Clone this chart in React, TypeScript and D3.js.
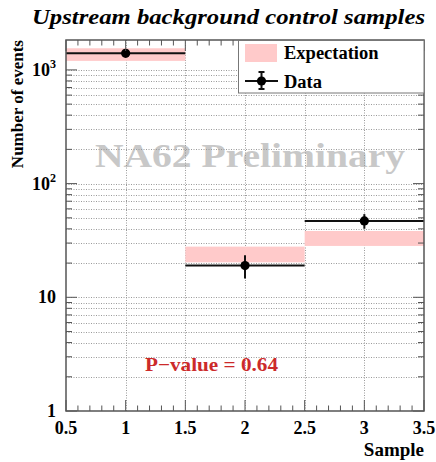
import React from "react";
import * as d3 from "d3";

const samples = [1, 2, 3];
const binWidth = 1;
const dataValues = [1400, 19, 47];
const dataErrors = [37, 4.4, 6.9];
const expLow = [1200, 20.3, 28.3];
const expHigh = [1550, 27.9, 38.3];
const xMajorTicks = [0.5, 1, 1.5, 2, 2.5, 3, 3.5];
const xTickLabels = ["0.5", "1", "1.5", "2", "2.5", "3", "3.5"];
const yMajorTicks = [1, 10, 100, 1000];
const yTickLabels: [string, string][] = [["1", ""], ["10", ""], ["10", "2"], ["10", "3"]];
const title = "Upstream background control samples";
const pValueText = "P\u2212value = 0.64";

const W = 436, H = 462;
const L = 66, R = 424, T = 40, B = 411;
const FONT = "'Liberation Serif', 'Times New Roman', serif";

export default function App() {
  const x = d3.scaleLinear().domain([0.5, 3.5]).range([L, R]);
  const y = d3.scaleLog().domain([1, 1832]).range([B, T]);

  const yMinor: number[] = [];
  for (const dec of [1, 10, 100, 1000]) {
    for (let k = 2; k <= 9; k++) {
      const v = k * dec;
      if (v < 1832) yMinor.push(v);
    }
  }
  const xMinor: number[] = [];
  for (let i = 0; i <= 30; i++) {
    const v = +(0.5 + i * 0.1).toFixed(2);
    if (Math.abs(v * 2 - Math.round(v * 2)) > 1e-6) xMinor.push(v);
  }
  const yGrid = [...yMinor, 10, 100, 1000];
  const xGrid = [1, 1.5, 2, 2.5, 3];

  const gridStyle = { stroke: "#9a9a9a", strokeWidth: 1, strokeDasharray: "1,1.5" };
  const frameColor = "#555";

  return (
    <svg width={W} height={H} style={{ position: "absolute", left: 0, top: 0, background: "#fff" }} fontFamily={FONT}>
      <rect x={0} y={0} width={W} height={H} fill="#fff" />
      {/* title */}
      <text x={32} y={24} fontSize={21} fontWeight="bold" fontStyle="italic" textLength={393} lengthAdjust="spacingAndGlyphs">{title}</text>

      {/* watermark */}
      <text x={95} y={167} fontSize={34} fontWeight="bold" fill="#c8c8c8" textLength={310} lengthAdjust="spacingAndGlyphs">NA62 Preliminary</text>

      {/* grid */}
      {yGrid.map((v) => (
        <line key={"gy" + v} x1={L} x2={R} y1={Math.round(y(v)) + 0.5} y2={Math.round(y(v)) + 0.5} {...gridStyle} />
      ))}
      {xGrid.map((v) => (
        <line key={"gx" + v} x1={Math.round(x(v)) + 0.5} x2={Math.round(x(v)) + 0.5} y1={T} y2={B} {...gridStyle} />
      ))}

      {/* expectation bands */}
      {samples.map((s, i) => (
        <rect key={"e" + s} x={x(s - binWidth / 2)} width={x(s + binWidth / 2) - x(s - binWidth / 2)} y={y(expHigh[i])} height={y(expLow[i]) - y(expHigh[i])} fill="#ffcaca" />
      ))}

      {/* data */}
      {samples.map((s, i) => (
        <g key={"d" + s} stroke="#111" strokeWidth={2}>
          <line x1={x(s - binWidth / 2)} x2={x(s + binWidth / 2)} y1={y(dataValues[i])} y2={y(dataValues[i])} />
          <line x1={x(s)} x2={x(s)} y1={y(dataValues[i] + dataErrors[i])} y2={y(dataValues[i] - dataErrors[i])} />
          <circle cx={x(s)} cy={y(dataValues[i])} r={4.6} fill="#000" stroke="none" />
        </g>
      ))}

      {/* ticks */}
      <g stroke={frameColor} strokeWidth={1}>
        {xMajorTicks.map((v) => (
          <g key={"xt" + v}>
            <line x1={x(v)} x2={x(v)} y1={B} y2={B - 11} />
            <line x1={x(v)} x2={x(v)} y1={T} y2={T + 11} />
          </g>
        ))}
        {xMinor.map((v) => (
          <g key={"xm" + v}>
            <line x1={x(v)} x2={x(v)} y1={B} y2={B - 5.5} />
            <line x1={x(v)} x2={x(v)} y1={T} y2={T + 5.5} />
          </g>
        ))}
        {yMajorTicks.map((v) => (
          <g key={"yt" + v}>
            <line x1={L} x2={L + 11} y1={y(v)} y2={y(v)} />
            <line x1={R} x2={R - 11} y1={y(v)} y2={y(v)} />
          </g>
        ))}
        {yMinor.map((v) => (
          <g key={"ym" + v}>
            <line x1={L} x2={L + 6} y1={y(v)} y2={y(v)} />
            <line x1={R} x2={R - 6} y1={y(v)} y2={y(v)} />
          </g>
        ))}
      </g>

      {/* frame */}
      <rect x={L} y={T} width={R - L} height={B - T} fill="none" stroke={frameColor} strokeWidth={1.5} />

      {/* legend */}
      <rect x={238.5} y={40.5} width={185.5} height={52.5} fill="#fff" stroke="#777" strokeWidth={1} />
      <rect x={245} y={44} width={32} height={18} fill="#ffcaca" />
      <text x={284} y={59} fontSize={18.5} fontWeight="bold">Expectation</text>
      <g stroke="#111" strokeWidth={2}>
        <line x1={245} x2={278} y1={81} y2={81} />
        <line x1={261.5} x2={261.5} y1={72} y2={89} />
        <line x1={258.5} x2={264.5} y1={72} y2={72} />
        <line x1={258.5} x2={264.5} y1={89} y2={89} />
        <circle cx={261.5} cy={81} r={4.6} fill="#000" stroke="none" />
      </g>
      <text x={284} y={88} fontSize={18.5} fontWeight="bold">Data</text>

      {/* p-value */}
      <text x={145} y={371} fontSize={19} fontWeight="bold" fill="#cc2a2a" textLength={133} lengthAdjust="spacingAndGlyphs">{pValueText}</text>

      {/* x tick labels */}
      {xMajorTicks.map((v, i) => (
        <text key={"xl" + v} x={x(v)} y={434} fontSize={18} fontWeight="bold" textAnchor="middle">{xTickLabels[i]}</text>
      ))}
      <text x={R} y={456} fontSize={19} fontWeight="bold" textAnchor="end">Sample</text>

      {/* y tick labels */}
      {yMajorTicks.map((v, i) => (
        <text key={"yl" + v} x={56} y={y(v) + 6} fontSize={18} fontWeight="bold" textAnchor="end">
          {yTickLabels[i][0]}
          {yTickLabels[i][1] ? <tspan fontSize={12} dy={-8}>{yTickLabels[i][1]}</tspan> : null}
        </text>
      ))}
      <text transform={`translate(23,${T}) rotate(-90)`} fontSize={17} fontWeight="bold" textAnchor="end">Number of events</text>
    </svg>
  );
}
